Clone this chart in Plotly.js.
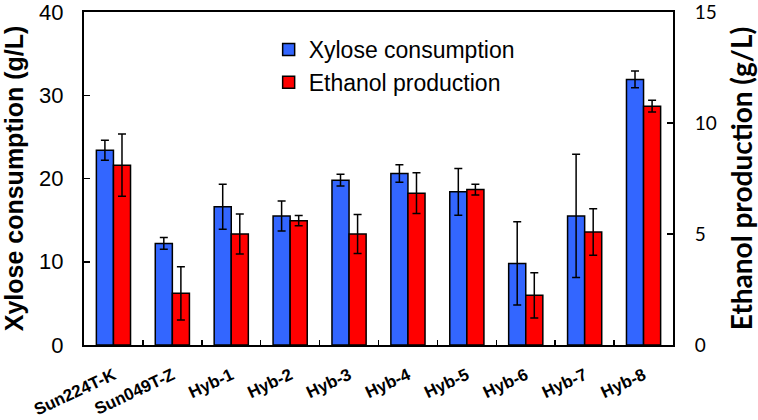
<!DOCTYPE html>
<html>
<head>
<meta charset="utf-8">
<script src="https://cdn.plot.ly/plotly-3.0.1.min.js"></script>
<style>
  html, body { margin: 0; padding: 0; background: #fff; }
  #chart { width: 758px; height: 420px; }
</style>
</head>
<body>
<div id="chart"></div>
<script>
// strains on the x axis
var strains = ['Sun224T-K', 'Sun049T-Z', 'Hyb-1', 'Hyb-2', 'Hyb-3', 'Hyb-4', 'Hyb-5', 'Hyb-6', 'Hyb-7', 'Hyb-8'];

// xylose consumed (g/L), left axis
var xylose = [23.4, 12.2, 16.6, 15.5, 19.8, 20.6, 18.4, 9.8, 15.5, 31.9];
var xyloseErr = [1.2, 0.7, 2.7, 1.8, 0.7, 1.05, 2.8, 5.0, 7.4, 1.0];

// ethanol produced (g/L), right axis
var ethanol = [8.1, 2.33, 5.0, 5.6, 5.0, 6.84, 7.0, 2.24, 5.09, 10.76];
var ethanolErr = [1.4, 1.2, 0.9, 0.23, 0.88, 0.92, 0.24, 1.02, 1.05, 0.27];

// axis ticks
var leftTicks = [0, 10, 20, 30, 40];
var rightTicks = [0, 5, 10, 15];

var arial = 'Liberation Sans, Arial, sans-serif';
var calibri = 'Lato, Open Sans, sans-serif';

var traces = [
    {
        type: 'bar',
        name: 'Xylose consumption',
        x: strains,
        y: xylose,
        yaxis: 'y',
        offsetgroup: 'a',
        marker: { color: '#3366ff', line: { color: '#000', width: 1.5 } },
        error_y: { type: 'data', array: xyloseErr, visible: true, color: '#000', thickness: 1.5, width: 4 }
    },
    {
        type: 'bar',
        name: 'Ethanol production',
        x: strains,
        y: ethanol,
        yaxis: 'y2',
        offsetgroup: 'b',
        marker: { color: '#ff0000', line: { color: '#000', width: 1.5 } },
        error_y: { type: 'data', array: ethanolErr, visible: true, color: '#000', thickness: 1.5, width: 4 }
    }
];

var layout = {
    width: 758,
    height: 420,
    margin: { l: 84, r: 85, t: 12, b: 75 },
    paper_bgcolor: '#fff',
    plot_bgcolor: '#fff',
    barmode: 'group',
    bargap: 0.42,
    bargroupgap: 0,
    showlegend: true,
    legend: {
        x: 0.3135, y: 0.952, xanchor: 'left', yanchor: 'top',
        bgcolor: 'rgba(0,0,0,0)',
        font: { family: arial, size: 23, color: '#000' },
        itemclick: false
    },
    xaxis: {
        type: 'category',
        showline: true, linecolor: '#000', linewidth: 2, mirror: true,
        ticks: 'inside', tickson: 'boundaries', ticklen: 5, tickcolor: '#000', tickwidth: 1.5,
        tickangle: -25,
        ticklabelstandoff: 12,
        ticklabeloverflow: 'allow',
        tickfont: { family: arial, size: 17, color: '#000', weight: 'bold' },
        showgrid: false, zeroline: false,
        automargin: false
    },
    yaxis: {
        range: [0, 40], tickmode: 'array', tickvals: leftTicks,
        showline: true, linecolor: '#000', linewidth: 2,
        ticks: 'inside', ticklen: 6, tickcolor: '#000', tickwidth: 1.5,
        ticklabelstandoff: 14,
        ticklabeloverflow: 'allow',
        tickfont: { family: arial, size: 22, color: '#000' },
        showgrid: false, zeroline: false,
        automargin: false,
        title: {
            text: 'Xylose consumption (g/L)',
            font: { family: arial, size: 25, color: '#000', weight: 'bold' },
            standoff: 8
        }
    },
    yaxis2: {
        overlaying: 'y', side: 'right',
        range: [0, 15], tickmode: 'array', tickvals: rightTicks,
        showline: true, linecolor: '#000', linewidth: 2,
        ticks: 'inside', ticklen: 6, tickcolor: '#000', tickwidth: 1.5,
        ticklabelstandoff: 16,
        ticklabeloverflow: 'allow',
        tickfont: { family: calibri, size: 19, color: '#000' },
        showgrid: false, zeroline: false,
        automargin: false,
        title: {
            text: 'Ethanol production (g/L)',
            font: { family: calibri, size: 28, color: '#000', weight: 'bold' },
            standoff: 17
        }
    }
};

Plotly.newPlot('chart', traces, layout, { displayModeBar: false, staticPlot: true });
</script>
</body>
</html>
